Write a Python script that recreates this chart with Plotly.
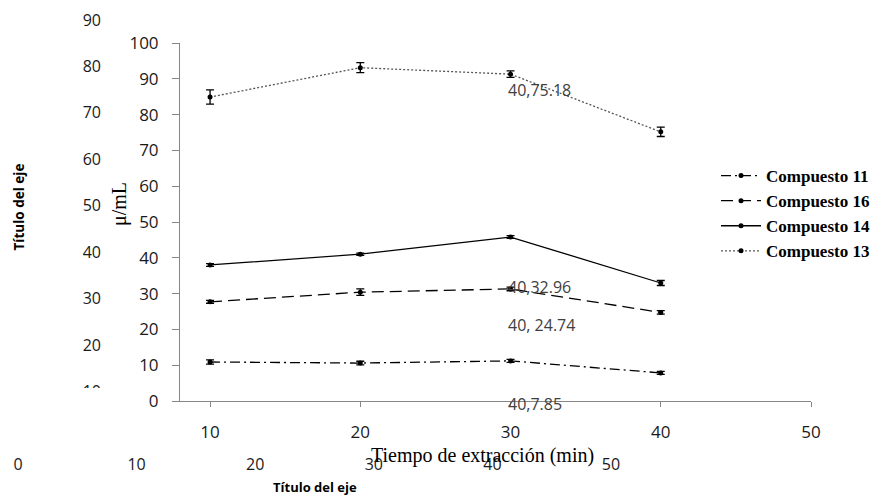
import plotly.graph_objects as go

W, H = 881, 497

# ---------------- data ----------------
minutes = [10, 20, 30, 40]
series_names = ["Compuesto 11", "Compuesto 16", "Compuesto 14", "Compuesto 13"]
c11 = [10.9, 10.6, 11.2, 7.85]
c11_err = [0.6, 0.5, 0.4, 0.4]
c16 = [27.7, 30.4, 31.3, 24.74]
c16_err = [0.4, 0.9, 0.5, 0.5]
c14 = [38.0, 41.0, 45.8, 32.96]
c14_err = [0.4, 0.3, 0.4, 0.7]
c13 = [84.9, 93.1, 91.3, 75.18]
c13_err = [2.0, 1.4, 0.9, 1.3]

main_x_ticks = [10, 20, 30, 40, 50]
main_y_ticks = [0, 10, 20, 30, 40, 50, 60, 70, 80, 90, 100]
bg_x_ticks = [0, 10, 20, 30, 40, 50]
bg_y_ticks = [10, 20, 30, 40, 50, 60, 70, 80, 90]
point_labels = ["40,75.18", "40,32.96", "40, 24.74", "40,7.85"]

# ---------------- helpers (pixel -> paper) ----------------
def px(x):
    return x / W


def py(y):
    return 1 - y / H


values = [c11, c16, c14, c13]
errors = [c11_err, c16_err, c14_err, c13_err]
styles = [
    dict(color="#000000", dash="10px,4px,2px,4px", width=1.3),
    dict(color="#000000", dash="12px,6px", width=1.3),
    dict(color="#000000", dash="solid", width=1.3),
    dict(color="#555555", dash="2px,2px", width=1.3),
]

fig = go.Figure()
for name, vals, err, st in zip(series_names, values, errors, styles):
    fig.add_trace(go.Scatter(
        x=minutes, y=vals, name=name, mode="lines+markers",
        legendgroup=name,
        line=st,
        marker=dict(symbol="circle", size=5, color="#000000"),
        error_y=dict(type="data", array=err, visible=True, color="#000000",
                     thickness=1.3, width=4),
    ))

# background (second) chart axes carrier
fig.add_trace(go.Scatter(x=[], y=[], xaxis="x2", yaxis="y2", showlegend=False,
                         hoverinfo="skip"))

axis_grey = "#868686"
tick_font_main = dict(family="Open Sans", size=17, color="#1a1a1a")
tick_font_bg = dict(family="Open Sans", size=16, color="#1a1a1a")

fig.update_layout(
    width=W, height=H,
    autosize=False,
    margin=dict(l=0, r=0, t=0, b=0, pad=0),
    paper_bgcolor="white",
    plot_bgcolor="rgba(0,0,0,0)",
    xaxis=dict(domain=[px(180), px(811)], range=[8, 50], tickvals=main_x_ticks,
               ticks="outside", ticklen=5, tickcolor=axis_grey, showline=True,
               linecolor=axis_grey, linewidth=1, showgrid=False, zeroline=False,
               tickfont=tick_font_main, ticklabelstandoff=11, automargin=False),
    yaxis=dict(domain=[py(401), py(43)], range=[0, 100], tickvals=main_y_ticks,
               ticks="outside", ticklen=7, tickcolor=axis_grey, showline=True,
               linecolor=axis_grey, linewidth=1, showgrid=False, zeroline=False,
               tickfont=tick_font_main, ticklabelstandoff=10, automargin=False),
    xaxis2=dict(domain=[px(18), px(611)], range=[0, 50], tickvals=bg_x_ticks,
                anchor="y2", showline=False, showgrid=False, zeroline=False,
                ticks="", tickfont=tick_font_bg, ticklabelstandoff=15,
                automargin=False),
    yaxis2=dict(domain=[py(438), py(20)], range=[0, 90], tickvals=bg_y_ticks,
                anchor="free", position=px(101), showline=False, showgrid=False,
                zeroline=False, ticks="", tickfont=tick_font_bg,
                automargin=False),
    legend=dict(x=px(716), y=py(158), xanchor="left", yanchor="top",
                bgcolor="rgba(0,0,0,0)", itemwidth=40, tracegroupgap=5,
                font=dict(family="Liberation Serif", size=17, color="#000000",
                          weight="bold"),
                traceorder="normal"),
    showlegend=True,
)

annotations = [
    dict(text="Tiempo de extracción (min)", x=px(482), y=py(455),
         font=dict(family="Liberation Serif", size=20, color="#000000")),
    dict(text="μ/mL", x=px(119), y=py(204), textangle=-90,
         font=dict(family="Liberation Serif", size=20, color="#000000")),
    dict(text="<b>Título del eje</b>", x=px(315), y=py(487), borderpad=0,
         font=dict(family="Open Sans", size=13, color="#000000")),
    dict(text="<b>Título del eje</b>", x=px(18.5), y=py(207), textangle=-90,
         font=dict(family="Open Sans", size=13.5, color="#000000")),
]
label_y_px = [90, 287, 325, 404]
for txt, ly in zip(point_labels, label_y_px):
    annotations.append(dict(text=txt, x=px(506), y=py(ly), xanchor="left",
                            font=dict(family="Open Sans", size=16, color="#404040")))
for a in annotations:
    a.update(xref="paper", yref="paper", showarrow=False)
    a.setdefault("xanchor", "center")
    a.setdefault("yanchor", "middle")
fig.update_layout(annotations=annotations)

# white patch partially hiding the lowest tick label of the background chart
fig.add_shape(type="rect", xref="paper", yref="paper", x0=px(60), x1=px(104),
              y0=py(402), y1=py(388), fillcolor="white", line=dict(width=0),
              layer="above")

fig.write_html("out.html")
